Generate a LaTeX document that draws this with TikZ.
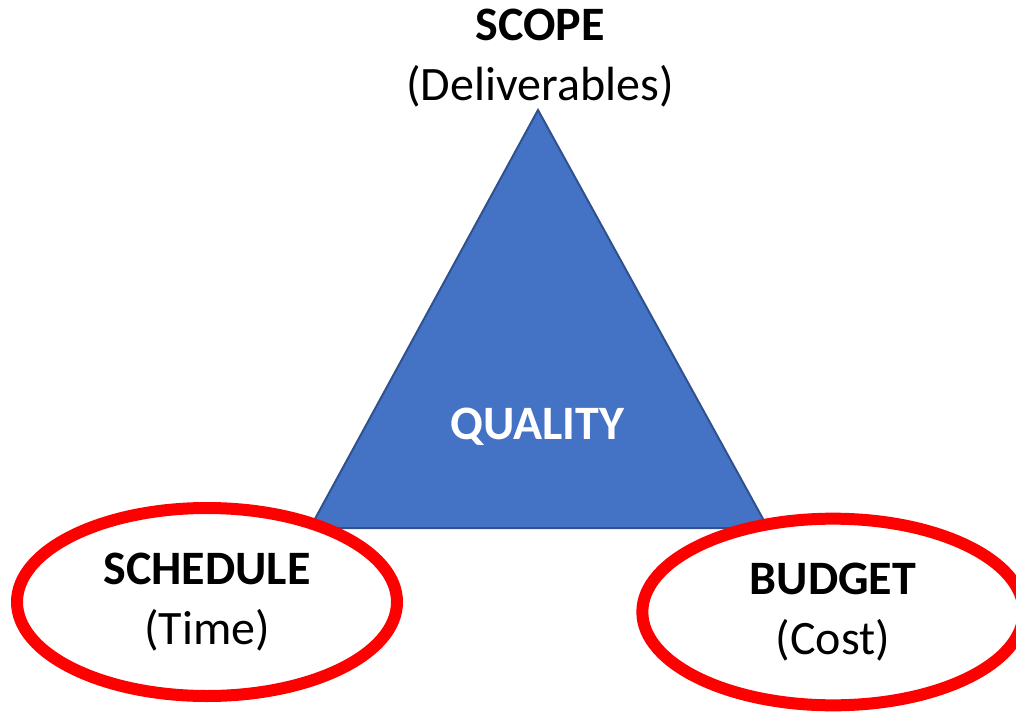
\documentclass[tikz,border=0pt]{standalone}
\usepackage{fontspec}
\setmainfont{Carlito}
\usetikzlibrary{shapes.geometric}
\definecolor{qualityblue}{HTML}{4472C4}
\definecolor{edgeblue}{HTML}{2F528F}
\tikzset{%
  pyramid/.style    = {fill=qualityblue, draw=edgeblue, line width=1.5pt,%
                       line join=miter},%
  constraint/.style = {ellipse, draw=red, line width=9pt,%
                       align=center, inner sep=0pt},%
  corner/.style     = {align=center, font=\fontsize{36}{45}\selectfont},%
  inside/.style     = {font=\fontsize{36}{45}\selectfont\bfseries, text=white}%
}
\begin{document}
\begin{tikzpicture}[x=0.75pt, y=-0.75pt]%
	\clip (0,0) rectangle (1016,712);
	\useasboundingbox (0,0) rectangle (1016,712);
	% the triangle of quality
	\coordinate (apex)  at (538,110);
	\coordinate (left)  at (310,528);
	\coordinate (right) at (768,528);
	\filldraw[pyramid] (apex) -- (left) -- (right) -- cycle;
	\node[inside] (quality) at (537,427) {QUALITY};
	% the three corners
	\node[corner] (scope) at (540,58) {\textbf{SCOPE}\\(Deliverables)};
	\node[constraint, corner, minimum width=285pt, minimum height=141pt]%
		(schedule) at (207,602) {\textbf{SCHEDULE}\\(Time)};
	\node[constraint, corner, minimum width=286pt, minimum height=140pt]%
		(budget) at (833,612) {\textbf{BUDGET}\\(Cost)};
\end{tikzpicture}
\end{document}
